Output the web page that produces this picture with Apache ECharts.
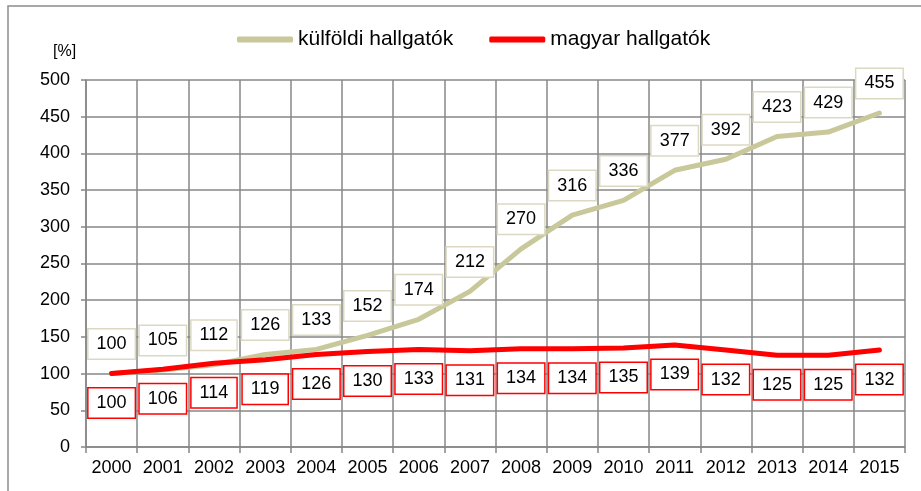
<!DOCTYPE html>
<html>
<head>
<meta charset="utf-8">
<script src="https://cdn.jsdelivr.net/npm/echarts@6/dist/echarts.min.js"></script>
<style>
  html, body { margin: 0; padding: 0; background: #fff; }
  #chart { width: 921px; height: 491px; }
</style>
</head>
<body>
<div id="chart"></div>
<script>
var years = ["2000", "2001", "2002", "2003", "2004", "2005", "2006", "2007",
  "2008", "2009", "2010", "2011", "2012", "2013", "2014", "2015"];
var kulfoldi = [100, 105, 112, 126, 133, 152, 174, 212, 270, 316, 336, 377, 392, 423, 429, 455];
var magyar = [100, 106, 114, 119, 126, 130, 133, 131, 134, 134, 135, 139, 132, 125, 125, 132];

var font = "Liberation Sans, Arial, sans-serif";
var gridColor = "#878787";

var chart = echarts.init(document.getElementById("chart"));

// címke dobozok
function boxLabel(pos, border) {
  return {
    show: true,
    position: pos,
    distance: 15,
    fontFamily: font,
    fontSize: 18,
    color: "#000",
    lineHeight: 19,
    backgroundColor: "#fff",
    borderColor: border,
    borderWidth: 1.5,
    padding: [5, 8, 5, 8]
  };
}

var option = {
  animation: false,
  grid: { left: 86, right: 16, top: 80, bottom: 44 },
  legend: {
    left: 237,
    top: 29,
    padding: 0,
    itemGap: 36,
    itemWidth: 56,
    itemHeight: 6,
    icon: "roundRect",
    textStyle: { fontFamily: font, fontSize: 21, color: "#000" },
    data: ["külföldi hallgatók", "magyar hallgatók"]
  },
  graphic: [
    {
      type: "rect",
      shape: { x: 8, y: 6, width: 940, height: 520 },
      style: { fill: "none", stroke: "#8c8c8c", lineWidth: 1.5 }
    },
    {
      type: "text",
      left: 53,
      top: 44,
      style: { text: "[%]", fontFamily: font, fontSize: 16, fill: "#000" }
    }
  ],
  xAxis: {
    type: "category",
    data: years,
    boundaryGap: true,
    axisLine: { lineStyle: { color: gridColor, width: 1.5 } },
    axisTick: { show: true, interval: 0, length: 6, lineStyle: { color: gridColor, width: 1.5 } },
    axisLabel: { interval: 0, fontFamily: font, fontSize: 18, color: "#000", margin: 12 },
    splitLine: { show: true, interval: 0, lineStyle: { color: gridColor, width: 1.5 } }
  },
  yAxis: {
    type: "value",
    min: 0,
    max: 500,
    interval: 50,
    axisLine: { show: true, lineStyle: { color: gridColor, width: 1.5 } },
    axisTick: { show: true, length: 5, lineStyle: { color: gridColor, width: 1.5 } },
    axisLabel: { fontFamily: font, fontSize: 18, color: "#000", margin: 16 },
    splitLine: { show: true, lineStyle: { color: gridColor, width: 1.5 } }
  },
  series: [
    {
      name: "külföldi hallgatók",
      type: "line",
      data: kulfoldi,
      symbol: "circle",
      symbolSize: 0,
      color: "#c8c89b",
      lineStyle: { width: 5, color: "#c8c89b", cap: "round" },
      label: boxLabel("top", "#dcd9c2"),
      z: 3
    },
    {
      name: "magyar hallgatók",
      type: "line",
      data: magyar,
      symbol: "circle",
      symbolSize: 0,
      color: "#ff0000",
      lineStyle: { width: 5, color: "#ff0000", cap: "round" },
      label: boxLabel("bottom", "#ff0000"),
      z: 4
    }
  ]
};

chart.setOption(option);
</script>
</body>
</html>
